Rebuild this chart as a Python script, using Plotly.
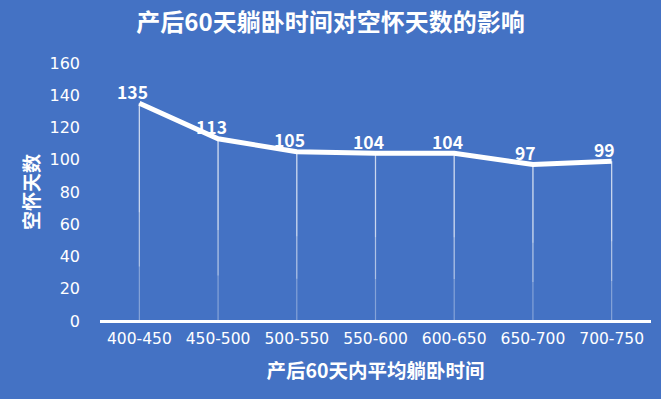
import plotly.graph_objects as go

categories = ["400-450", "450-500", "500-550", "550-600", "600-650", "650-700", "700-750"]
values = [135, 113, 105, 104, 104, 97, 99]
y_ticks = [0, 20, 40, 60, 80, 100, 120, 140, 160]

BG = "#4472C4"
CJK = "Noto Sans CJK SC, sans-serif"
NUM = "DejaVu Sans, sans-serif"

fig = go.Figure()

# drop lines (fading towards the axis), built from the data values
for frac, alpha in [(1.0, 0.35), (0.75, 0.35), (0.5, 0.35)]:
    fig.add_trace(go.Scatter(
        x=categories, y=values, mode="markers",
        marker=dict(size=0.1, color="rgba(0,0,0,0)"),
        error_y=dict(type="data", symmetric=False, array=[0]*len(values),
                     arrayminus=[v*frac for v in values],
                     color=f"rgba(255,255,255,{alpha})", thickness=1.2, width=0),
        hoverinfo="skip",
    ))

fig.add_trace(go.Scatter(
    x=categories, y=values, mode="lines",
    line=dict(color="white", width=5),
    hoverinfo="skip",
))

for c, v in zip(categories, values):
    fig.add_annotation(x=c, y=v, text=str(v), showarrow=False,
                       xshift=-7, yshift=12,
                       font=dict(size=17.5, color="white", family=CJK, weight="bold"))

fig.update_layout(
    width=661, height=399,
    paper_bgcolor=BG, plot_bgcolor=BG,
    margin=dict(l=100, r=10, t=63, b=78),
    showlegend=False,
    font=dict(family=CJK, color="white"),
    title=dict(text="产后60天躺卧时间对空怀天数的影响", x=0.5, xanchor="center",
               y=1 - 23/399, yanchor="middle",
               font=dict(size=24, color="white", family=CJK, weight="bold")),
    xaxis=dict(type="category", range=[-0.5, len(categories) - 0.5],
               showgrid=False, zeroline=False, showline=False, ticks="",
               tickfont=dict(size=15.5, color="white", family=NUM),
               ticklabelstandoff=6,
               title=dict(text="产后60天内平均躺卧时间", standoff=17,
                          font=dict(size=19.5, color="white", family=CJK, weight="bold"))),
    yaxis=dict(range=[0, 160], tickvals=y_ticks, showgrid=False, zeroline=True,
               zerolinecolor="white", zerolinewidth=2.5, showline=False,
               tickfont=dict(size=16, color="white", family=NUM), ticklabelstandoff=19,
               title=dict(text="空怀天数", standoff=4,
                          font=dict(size=19, color="white", family=CJK, weight="bold"))),
)

fig.write_html("out.html")
